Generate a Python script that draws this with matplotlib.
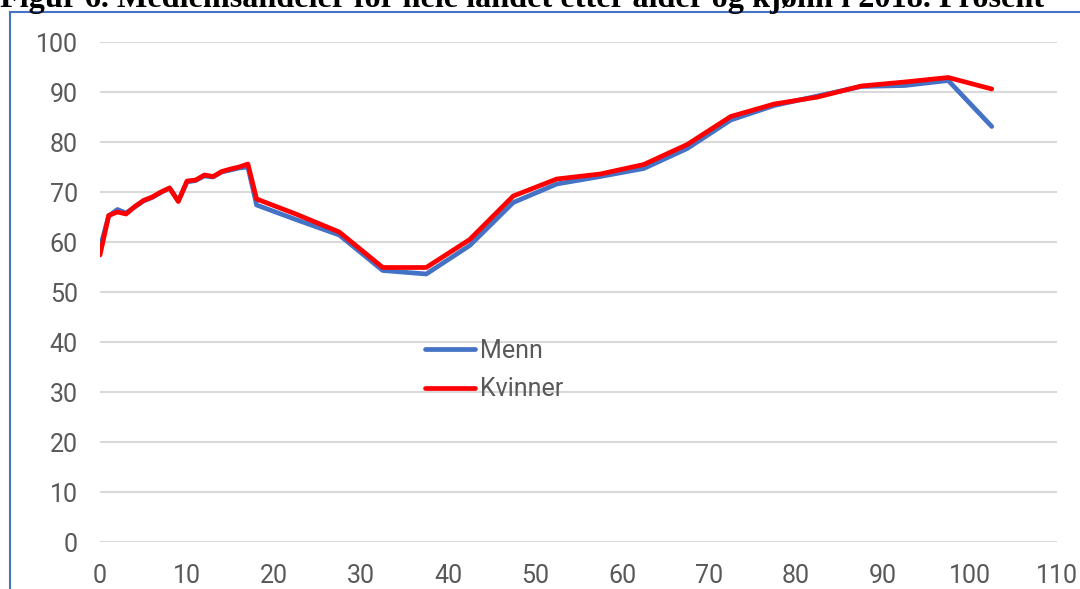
import matplotlib
matplotlib.use("Agg")
import matplotlib.pyplot as plt
from matplotlib.lines import Line2D

ages = [0, 1, 2, 3, 4, 5, 6, 7, 8, 9, 10, 11, 12, 13, 14, 15, 16, 17, 18,
        22.5, 27.5, 32.5, 37.5, 42.5, 47.5, 52.5, 57.5, 62.5, 67.5, 72.5,
        77.5, 82.5, 87.5, 92.5, 97.5, 102.5]
menn = [58.8, 65.2, 66.5, 65.8, 67.0, 68.2, 68.9, 69.9, 70.8, 68.2, 72.0, 72.3,
        73.2, 73.0, 74.0, 74.4, 74.8, 75.0, 67.4,
        64.5, 61.4, 54.3, 53.6, 59.3, 67.9, 71.6, 73.1, 74.7, 78.7, 84.4,
        87.3, 89.2, 91.1, 91.3, 92.3, 83.1]
kvinner = [57.4, 65.3, 66.0, 65.6, 67.1, 68.3, 69.0, 70.0, 70.8, 68.1, 72.2, 72.4,
           73.4, 73.1, 74.1, 74.6, 75.0, 75.6, 68.6,
           65.6, 62.0, 54.9, 54.9, 60.5, 69.2, 72.6, 73.6, 75.5, 79.5, 85.1,
           87.6, 89.0, 91.2, 92.0, 92.9, 90.6]
xticks = list(range(0, 111, 10))
yticks = list(range(0, 101, 10))

W, H = 1080, 589
fig = plt.figure(figsize=(W / 100, H / 100), dpi=100)
fig.patch.set_facecolor("white")

# title (cropped at top, as in the reference)
fig.text(0.0 / W, 1 - 7 / H, "Figur 6. Medlemsandeler for hele landet etter alder og kjønn i 2018. Prosent",
         family="Liberation Serif", weight="bold", fontsize=23.2, ha="left", va="baseline",
         color="black")

# border box
blue_border = "#4472C4"
fig.add_artist(Line2D([10 / W, 10 / W], [0, 1 - 12 / H], color=blue_border, lw=1.5,
                      transform=fig.transFigure))
fig.add_artist(Line2D([10 / W, 1], [1 - 12 / H, 1 - 12 / H], color=blue_border, lw=1.5,
                      transform=fig.transFigure))

ax = fig.add_axes([100 / W, 47 / H, 957 / W, 500 / H])
ax.plot(ages, menn, color="#4472C4", lw=3.4, label="Menn", solid_capstyle="round", zorder=3)
ax.plot(ages, kvinner, color="#FF0000", lw=3.4, label="Kvinner", solid_capstyle="round", zorder=4)

ax.set_xlim(0, 110)
ax.set_ylim(0, 100)
ax.set_xticks(xticks)
ax.set_yticks(yticks)
ax.grid(axis="y", color="#D9D9D9", lw=1.5)
ax.set_axisbelow(True)
for s in ax.spines.values():
    s.set_visible(False)
ax.tick_params(length=0, labelsize=18, labelcolor="#595959")
for lab in ax.get_xticklabels() + ax.get_yticklabels():
    lab.set_family("Roboto")
ax.tick_params(axis="y", pad=16)
ax.tick_params(axis="x", pad=16)

leg = ax.legend(loc="upper left", bbox_to_anchor=(402 / W, 1 - 316 / H),
                bbox_transform=fig.transFigure, frameon=False, handlelength=2.0,
                labelspacing=0.6, handletextpad=0.2,
                prop={"family": "Roboto", "size": 18})
for t in leg.get_texts():
    t.set_color("#595959")

fig.savefig("out.png", dpi=100, facecolor="white")
